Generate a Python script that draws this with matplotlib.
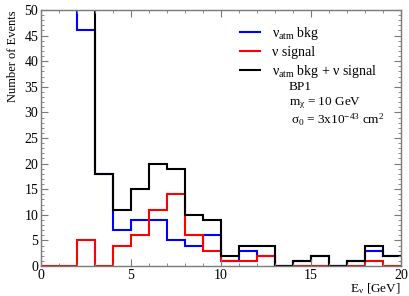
import matplotlib
matplotlib.use("Agg")
import matplotlib.pyplot as plt
from matplotlib.lines import Line2D
from matplotlib.ticker import MultipleLocator
import numpy as np

plt.rcParams["font.family"] = ["Liberation Serif", "DejaVu Serif"]
plt.rcParams["mathtext.fontset"] = "custom"
plt.rcParams["mathtext.rm"] = "Liberation Serif"
plt.rcParams["mathtext.it"] = "Liberation Serif:italic"

# energy bins [GeV], 1 GeV wide
sig_edges = np.arange(0, 21)
signal = [0, 0, 5, 0, 4, 6, 11, 14, 6, 3, 1, 1, 2, 0, 0, 0, 0, 0, 1, 0]

# atmospheric background, first bin (1-2 GeV) runs off the top of the frame
bkg_edges = np.arange(1, 21)
bkg = [60, 46, 18, 7, 9, 9, 5, 4, 6, 1, 3, 2, 0, 1, 2, 0, 1, 3, 2]

total = np.array(bkg) + np.array(signal[1:])

frame_col = "#7a7a7a"
fs = 9.5

fig = plt.figure(figsize=(4.09, 2.96), dpi=100)
ax = fig.add_axes([41 / 409, 1 - 266 / 296, 360 / 409, 256 / 296])

ax.stairs(bkg, bkg_edges, baseline=None, color="blue", lw=1.5)
ax.stairs(signal, sig_edges, baseline=None, color="red", lw=1.5)
ax.stairs(total, bkg_edges, baseline=None, color="black", lw=1.5)

ax.set_xlim(0, 20)
ax.set_ylim(0, 50)
ax.xaxis.set_major_locator(MultipleLocator(5))
ax.xaxis.set_minor_locator(MultipleLocator(1))
ax.yaxis.set_major_locator(MultipleLocator(5))
ax.yaxis.set_minor_locator(MultipleLocator(1))
ax.tick_params(which="both", direction="in", top=True, right=True,
               color=frame_col, labelsize=10, pad=2)
ax.tick_params(which="major", length=5)
ax.tick_params(which="minor", length=2.5)
for s in ax.spines.values():
    s.set_color(frame_col)
    s.set_linewidth(1.0)

ax.set_ylabel("Number of Events", fontsize=9, loc="top", labelpad=4)
ax.set_xlabel(r"E$_\mathrm{ν}$ [GeV]", fontsize=fs, loc="right", labelpad=0)

handles = [
    Line2D([], [], color="blue", lw=1.5),
    Line2D([], [], color="red", lw=1.5),
    Line2D([], [], color="black", lw=1.5),
]
labels = [
    r"ν$_\mathrm{atm}$ bkg",
    "ν signal",
    r"ν$_\mathrm{atm}$ bkg + ν signal",
]
ax.legend(handles, labels, loc="upper left", bbox_to_anchor=(0.553, 0.942),
          frameon=False, fontsize=10, handlelength=1.4, handletextpad=0.9,
          labelspacing=0.3, borderpad=0, borderaxespad=0)

ax.text(0.689, 0.699, "BP1", transform=ax.transAxes, fontsize=fs, va="center")
ax.text(0.689, 0.637, r"m$_\mathrm{χ}$ = 10 GeV", transform=ax.transAxes,
        fontsize=fs, va="center")
ax.text(0.694, 0.57, r"σ$_\mathrm{0}$ = 3x10$^\mathrm{-43}$ cm$^\mathrm{2}$",
        transform=ax.transAxes, fontsize=fs, va="center")

fig.savefig("out.png", dpi=100)
